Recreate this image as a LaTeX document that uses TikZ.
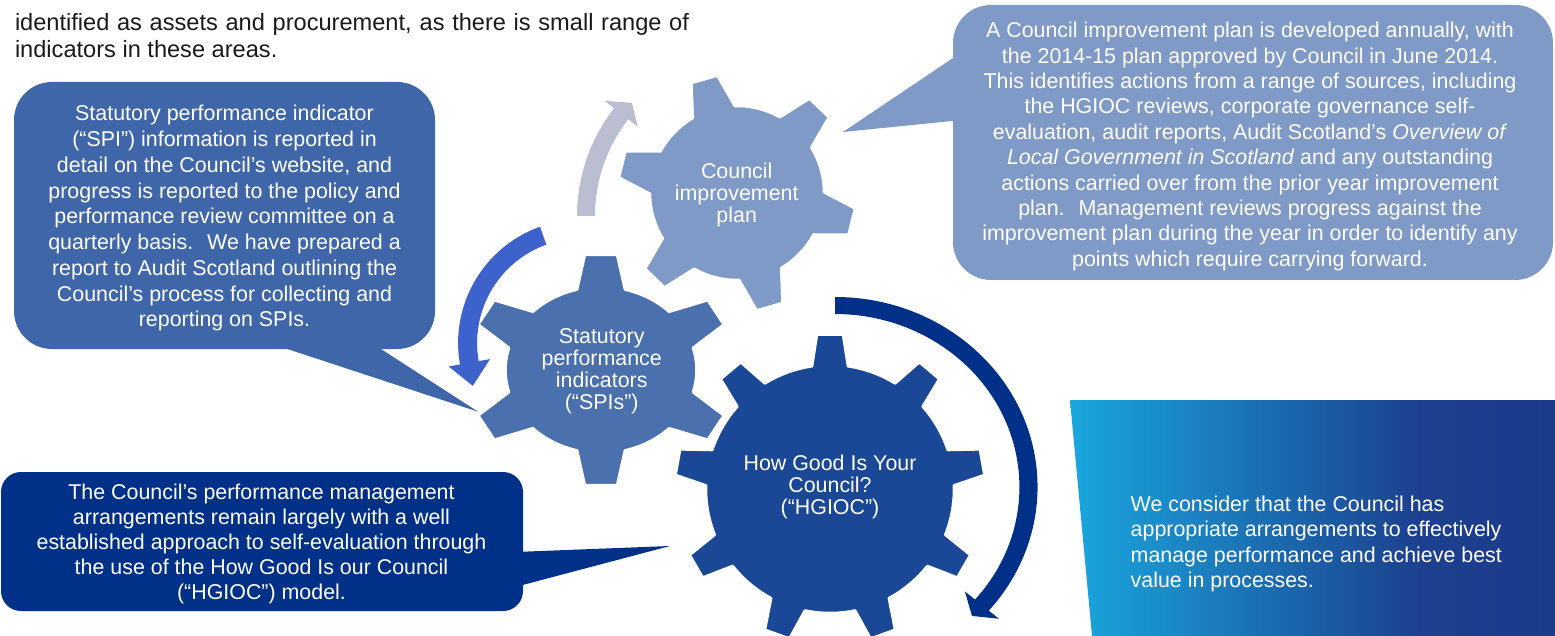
\documentclass[tikz,border=0pt]{standalone}
\usepackage{fontspec}
\setmainfont{Liberation Sans}
\definecolor{gearA}{HTML}{7F9AC6}
\definecolor{gearB}{HTML}{4A70AD}
\definecolor{gearC}{HTML}{1B4896}
\definecolor{calloutB}{HTML}{4066AA}
\definecolor{calloutC}{HTML}{003087}
\definecolor{arrA}{HTML}{BBBDD1}
\definecolor{arrB}{HTML}{3E62CC}
\definecolor{arrC}{HTML}{003088}
\definecolor{gradA}{HTML}{1AA7DE}
\definecolor{gradB}{HTML}{1C408F}
\definecolor{gradC}{HTML}{1B3A8A}
\definecolor{toptxt}{HTML}{1A1A1A}
\pgfdeclarehorizontalshading{boxgrad}{100bp}{color(0bp)=(gradA); color(25bp)=(gradA); color(61bp)=(gradB); color(75bp)=(gradC); color(100bp)=(gradC)}
% gear: #1 colour, #2 teeth, #3 phase, #4 outer radius, #5 body radius, #6 tip half width, #7 base half width
\newcommand{\drawgear}[7]{%
  \pgfmathsetmacro\gA{deg(#6/#4)}%
  \pgfmathsetmacro\gB{deg(#7/#5)}%
  \pgfmathsetmacro\gS{360/#2}%
  \pgfmathtruncatemacro\gN{#2-1}%
  \fill[#1, draw=white, line width=2.5pt, line join=round] ({#3-\gB}:#5)
    \foreach \k in {0,...,\gN}{
      -- ({#3+\k*\gS-\gB}:#5) -- ({#3+\k*\gS-\gA}:#4) -- ({#3+\k*\gS+\gA}:#4) -- ({#3+\k*\gS+\gB}:#5)
      arc[start angle={#3+\k*\gS+\gB}, end angle={#3+(\k+1)*\gS-\gB}, radius=#5]
    } -- cycle;
}
% circular arrow: #1 colour, #2 radius, #3 half width, #4 start angle, #5 head base angle, #6 head half width, #7 tip angle, #8 tip radius
\newcommand{\cirarrow}[8]{%
  \fill[#1] (#4:{#2+#3}) arc[start angle=#4, end angle=#5, radius={#2+#3}]
    -- (#5:{#2+#6}) -- (#7:#8) -- (#5:{#2-#6}) -- (#5:{#2-#3})
    arc[start angle=#5, end angle=#4, radius={#2-#3}] -- cycle;
}
\begin{document}
\begin{tikzpicture}[x=1pt, y=-1pt,
  every node/.style={inner sep=0pt, outer sep=0pt},
  boxshape/.style={rectangle, draw=none},
  bodytext/.style={text=white, align=center},
  geartext/.style={text=white, align=center, font=\fontsize{21.4}{21.8}\selectfont}]
\useasboundingbox (0,0) rectangle (1555,636);
\clip (0,0) rectangle (1555,636);
\fill[white] (0,0) rectangle (1555,636);

% top paragraph
\node[anchor=north west, align=left, text=toptxt, font=\fontsize{23.6}{26.6}\selectfont] (toptext) at (15,13.5)
  {\makebox[674pt][s]{identified as assets and procurement, as there is small range of}\\indicators in these areas.};

% gradient conclusion box
\shade[shading=boxgrad] (1070,400) -- (1555,400) -- (1555,636) -- (1092,636) -- cycle;
\node[anchor=west, align=left, text=white, font=\fontsize{21.4}{25.6}\selectfont] (concl) at (1130.7,543.9)
  {We consider that the Council has\\appropriate arrangements to effectively\\manage performance and achieve best\\value in processes.};

% callout boxes
\node[boxshape, fill=calloutB, rounded corners=38pt, minimum width=421pt, minimum height=267pt] (spibox) at (224.5,215.5) {};
\coordinate (spitip) at (478,411.7);
\fill[calloutB] (260,340) -- (spitip) -- (367,340) -- cycle;

\node[boxshape, fill=gearA, rounded corners=38pt, minimum width=600pt, minimum height=275pt] (planbox) at (1253,142.5) {};
\coordinate (plantip) at (843,132);
\fill[gearA] (962,52) -- (plantip) -- (962,120) -- cycle;

\node[boxshape, fill=calloutC, rounded corners=20pt, minimum width=522pt, minimum height=139pt] (hgbox) at (262,541.5) {};
\coordinate (hgtip) at (670,546);
\fill[calloutC] (515,552) -- (hgtip) -- (515,587) -- cycle;

% gears
\begin{scope}[shift={(737,193)}, yscale=-1]
  \drawgear{gearA}{6}{-14}{119}{87}{13.5}{22}
\end{scope}
\begin{scope}[shift={(601,370)}, yscale=-1, xscale=1.15]
  \drawgear{gearB}{6}{30}{116}{83}{14}{21}
\end{scope}
\begin{scope}[shift={(830,489)}, yscale=-1]
  \drawgear{gearC}{9}{10}{155}{124}{13}{18}
\end{scope}

% circular arrows
\begin{scope}[shift={(752,216)}, yscale=-1]
  \cirarrow{arrA}{166}{9}{180}{142}{21}{136.7}{165}
\end{scope}
\begin{scope}[shift={(581.6,343)}, yscale=-1]
  \cirarrow{arrB}{114}{9.5}{109.7}{190}{21}{201.5}{117}
\end{scope}
\begin{scope}[shift={(835,487)}, yscale=-1, xscale=1.066]
  \cirarrow{arrC}{181.5}{8.5}{90}{-40.6}{21}{-45.1}{182}
\end{scope}

% gear labels
\node[geartext] (plangear) at (736.7,194.7) {Council\\improvement\\plan};
\node[geartext] (spigear) at (601.7,371.4) {Statutory\\performance\\indicators\\(“SPIs”)};
\node[geartext] (hggear) at (830,487.2) {How Good Is Your\\Council?\\(“HGIOC”)};

% callout texts
\node[bodytext, font=\fontsize{21.4}{25.75}\selectfont] (spitext) at (224.5,218.3)
  {Statutory performance indicator\\(“SPI”) information is reported in\\detail on the Council’s website, and\\progress is reported to the policy and\\performance review committee on a\\quarterly basis.~ We have prepared a\\report to Audit Scotland outlining the\\Council’s process for collecting and\\reporting on SPIs.};
\node[bodytext, font=\fontsize{21.4}{25.37}\selectfont] (plantext) at (1250,146.5)
  {A Council improvement plan is developed annually, with\\the 2014-15 plan approved by Council in June 2014.\\This identifies actions from a range of sources, including\\the HGIOC reviews, corporate governance self-\\evaluation, audit reports, Audit Scotland’s \textit{Overview of}\\\textit{Local Government in Scotland} and any outstanding\\actions carried over from the prior year improvement\\plan.~ Management reviews progress against the\\improvement plan during the year in order to identify any\\points which require carrying forward.};
\node[bodytext, font=\fontsize{21.4}{25}\selectfont] (hgtext) at (261.5,543.9)
  {The Council’s performance management\\arrangements remain largely with a well\\established approach to self-evaluation through\\the use of the How Good Is our Council\\(“HGIOC”) model.};
\end{tikzpicture}
\end{document}
